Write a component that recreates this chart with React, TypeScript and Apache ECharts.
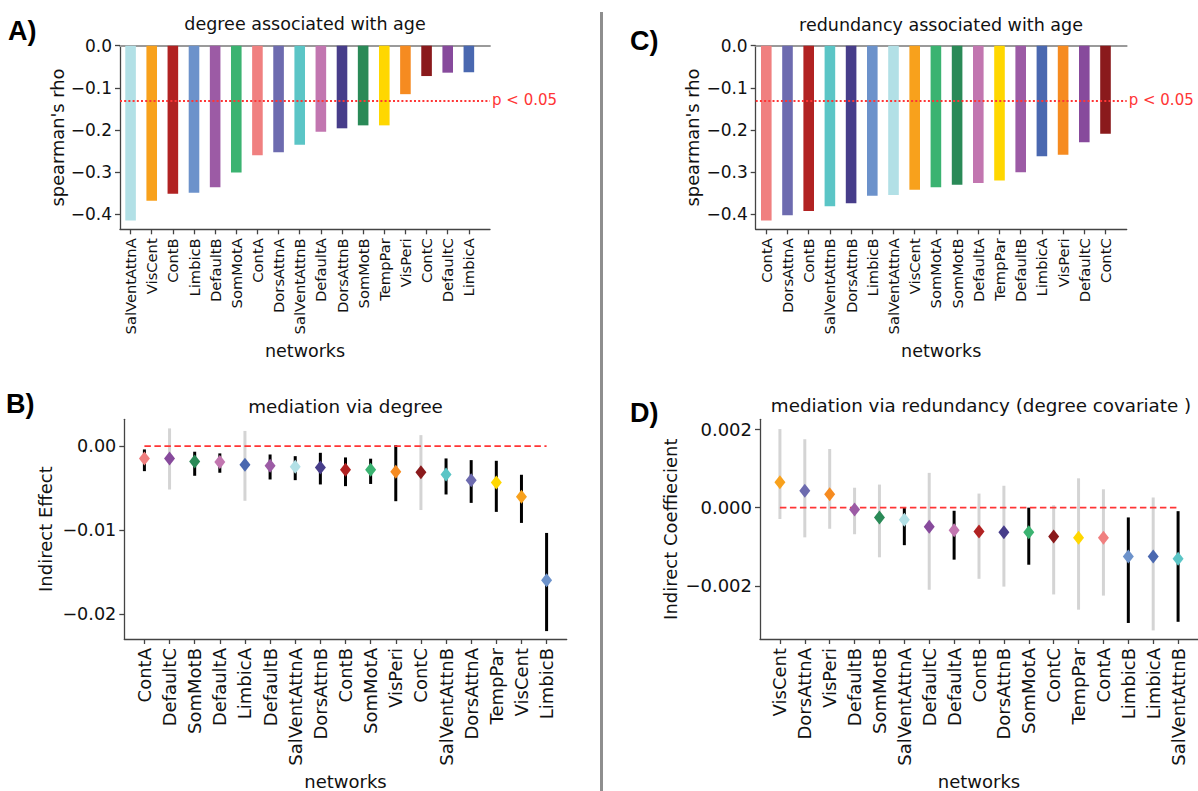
import React, { useEffect, useRef } from 'react';
import * as echarts from 'echarts';

// ---------- data ----------
const aNetworks = ['SalVentAttnA', 'VisCent', 'ContB', 'LimbicB', 'DefaultB', 'SomMotA', 'ContA', 'DorsAttnA', 'SalVentAttnB', 'DefaultA', 'DorsAttnB', 'SomMotB', 'TempPar', 'VisPeri', 'ContC', 'DefaultC', 'LimbicA'];
const aRho = [-0.415, -0.368, -0.351, -0.349, -0.336, -0.301, -0.26, -0.253, -0.235, -0.204, -0.196, -0.189, -0.189, -0.115, -0.072, -0.064, -0.063];

const cNetworks = ['ContA', 'DorsAttnA', 'ContB', 'SalVentAttnB', 'DorsAttnB', 'LimbicB', 'SalVentAttnA', 'VisCent', 'SomMotA', 'SomMotB', 'DefaultA', 'TempPar', 'DefaultB', 'LimbicA', 'VisPeri', 'DefaultC', 'ContC'];
const cRho = [-0.415, -0.402, -0.392, -0.381, -0.374, -0.356, -0.354, -0.342, -0.336, -0.33, -0.326, -0.32, -0.3, -0.262, -0.259, -0.229, -0.209];

const pThreshold = -0.134;
const rhoTicks = [0, -0.1, -0.2, -0.3, -0.4];

const bNetworks = ['ContA', 'DefaultC', 'SomMotB', 'DefaultA', 'LimbicA', 'DefaultB', 'SalVentAttnA', 'DorsAttnB', 'ContB', 'SomMotA', 'VisPeri', 'ContC', 'SalVentAttnB', 'DorsAttnA', 'TempPar', 'VisCent', 'LimbicB'];
const bEffect = [-0.00147, -0.00147, -0.00183, -0.0019, -0.00222, -0.00234, -0.00246, -0.00254, -0.00282, -0.00282, -0.00306, -0.0031, -0.00337, -0.00405, -0.00433, -0.00603, -0.01595];
const bLower = [-0.00298, -0.00516, -0.00353, -0.00317, -0.0065, -0.00397, -0.00405, -0.00456, -0.00476, -0.0045, -0.00655, -0.0076, -0.00575, -0.00675, -0.00782, -0.00913, -0.02198];
const bUpper = [-0.0004, 0.0021, -0.00067, -0.00087, 0.0018, -0.001, -0.0012, -0.0008, -0.00135, -0.0015, 0.0001, 0.0013, -0.00147, -0.00167, -0.00175, -0.00341, -0.01032];
const bSignificant = [true, false, true, true, false, true, true, true, true, true, true, false, true, true, true, true, true];
const bTicks = [0, -0.01, -0.02];

const dNetworks = ['VisCent', 'DorsAttnA', 'VisPeri', 'DefaultB', 'SomMotB', 'SalVentAttnA', 'DefaultC', 'DefaultA', 'ContB', 'DorsAttnB', 'SomMotA', 'ContC', 'TempPar', 'ContA', 'LimbicB', 'LimbicA', 'SalVentAttnB'];
const dCoef = [0.00065, 0.00043, 0.00034, -0.00005, -0.00025, -0.00031, -0.00049, -0.00058, -0.00061, -0.00063, -0.00063, -0.00074, -0.00077, -0.00077, -0.00125, -0.00125, -0.00131];
const dLower = [-0.00029, -0.00076, -0.00054, -0.00068, -0.00127, -0.00096, -0.0021, -0.00133, -0.00182, -0.00202, -0.00146, -0.00222, -0.00261, -0.00225, -0.00295, -0.00314, -0.00292];
const dUpper = [0.00201, 0.00175, 0.0015, 0.00051, 0.00059, 0.0, 0.00089, -0.00008, 0.00036, 0.00056, 0.0, 0.00006, 0.00075, 0.00047, -0.00025, 0.00026, -0.00009];
const dSignificant = [false, false, false, false, false, true, false, true, false, false, true, false, false, false, true, false, true];
const dTicks = [0.002, 0, -0.002];

const networkColors: Record<string, string> = {
  VisCent: '#f8a11c',
  VisPeri: '#f68b20',
  SomMotA: '#3bb371',
  SomMotB: '#2a8a57',
  DorsAttnA: '#6d6baf',
  DorsAttnB: '#473d8a',
  SalVentAttnA: '#b2e0e6',
  SalVentAttnB: '#5bc5c6',
  LimbicA: '#4a68b0',
  LimbicB: '#6c92cb',
  ContA: '#f08080',
  ContB: '#b12222',
  ContC: '#8a1a1c',
  DefaultA: '#c276b0',
  DefaultB: '#9c5ba5',
  DefaultC: '#874a9c',
  TempPar: '#ffd700',
};

// ---------- style ----------
const FONT = 'DejaVu Sans';
const TXT = '#111';
const SPINE = '#444';
const RED = '#ff3535';

const fmt = (d: number) => (v: number) => {
  const s = Math.abs(v) < 1e-12 ? (0).toFixed(d) : Number(v).toFixed(d);
  return s.replace('-', '\u2212');
};

const spine = { show: true, onZero: false, lineStyle: { color: SPINE, width: 1.3 } };
const ticks = (vals: number[]) => ({ show: true, inside: false, length: 5, customValues: vals, lineStyle: { color: SPINE, width: 1.3 } });

const idx = (n: number) => Array.from({ length: n }, (_, i) => i);

function netAxis(names: string[], gridIndex: number, min: number, max: number, nameGap: number, labelSize: number, nameSize: number) {
  const vals = idx(names.length);
  return {
    type: 'value',
    gridIndex,
    min,
    max,
    axisLine: spine,
    axisTick: ticks(vals),
    axisLabel: {
      customValues: vals,
      rotate: 90,
      margin: 9,
      fontSize: labelSize,
      color: TXT,
      fontFamily: FONT,
      formatter: (v: number) => names[Math.round(v)] ?? '',
    },
    splitLine: { show: false },
    name: 'networks',
    nameLocation: 'middle',
    nameGap,
    nameTextStyle: { fontSize: nameSize, color: TXT, fontFamily: FONT },
  };
}

function topLine(gridIndex: number, min: number, max: number) {
  return {
    type: 'value',
    gridIndex,
    position: 'top',
    min,
    max,
    axisLine: { show: true, onZero: false, lineStyle: { color: '#9a9a9a', width: 1.8 } },
    axisTick: { show: false },
    axisLabel: { show: false },
    splitLine: { show: false },
  };
}

function valAxis(gridIndex: number, min: number, max: number, vals: number[], digits: number, name: string, nameGap: number, labelSize: number, nameSize: number) {
  return {
    type: 'value',
    gridIndex,
    min,
    max,
    axisLine: spine,
    axisTick: ticks(vals),
    axisLabel: { customValues: vals, margin: 8, fontSize: labelSize, color: TXT, fontFamily: FONT, formatter: fmt(digits) },
    splitLine: { show: false },
    name,
    nameLocation: 'middle',
    nameGap,
    nameTextStyle: { fontSize: nameSize, color: TXT, fontFamily: FONT },
  };
}

function barSeries(names: string[], values: number[], xAxisIndex: number, yAxisIndex: number) {
  return {
    type: 'bar',
    xAxisIndex,
    yAxisIndex,
    barWidth: 10.6,
    data: values.map((v, i) => ({ value: [i, v], itemStyle: { color: networkColors[names[i]] } })),
    markLine: {
      silent: true,
      symbol: 'none',
      data: [{ yAxis: pThreshold }],
      lineStyle: { color: RED, width: 2, type: [2, 2.2] },
      label: { show: true, position: 'end', formatter: 'p < 0.05', color: RED, fontSize: 15, fontFamily: FONT, distance: [2, 4] },
    },
  };
}

function errorSeries(names: string[], mid: number[], lo: number[], hi: number[], sig: boolean[], xAxisIndex: number, yAxisIndex: number) {
  const n = names.length;
  return [
    {
      type: 'custom',
      xAxisIndex,
      yAxisIndex,
      z: 2,
      encode: { x: 0, y: [1, 2] },
      data: lo.map((l, i) => [i, l, hi[i], sig[i] ? 1 : 0]),
      renderItem: (params: any, api: any) => {
        const x = api.value(0);
        const p1 = api.coord([x, api.value(2)]);
        const p2 = api.coord([x, api.value(1)]);
        return {
          type: 'line',
          shape: { x1: p1[0], y1: p1[1], x2: p2[0], y2: p2[1] },
          style: { stroke: api.value(3) ? '#000' : '#d4d4d4', lineWidth: 3 },
        };
      },
    },
    {
      type: 'line',
      xAxisIndex,
      yAxisIndex,
      z: 3,
      symbol: 'none',
      silent: true,
      data: [[0, 0], [n - 1, 0]],
      lineStyle: { color: RED, width: 1.8, type: [6.5, 3.5] },
    },
    {
      type: 'scatter',
      xAxisIndex,
      yAxisIndex,
      z: 4,
      symbol: 'diamond',
      symbolSize: [11, 14],
      data: mid.map((v, i) => ({ value: [i, v], itemStyle: { color: networkColors[names[i]], opacity: 1 } })),
    },
  ];
}

const letter = (text: string, x: number, y: number) => ({
  type: 'text',
  x,
  y,
  style: { text, fill: '#000', font: 'bold 27px "Liberation Sans"', textVerticalAlign: 'middle' },
});

const titleOf = (text: string, left: number, top: number, size: number) => ({
  text,
  left,
  top,
  textAlign: 'center',
  padding: 0,
  textStyle: { fontSize: size, fontWeight: 'normal', color: TXT, fontFamily: FONT },
});

export default function App() {
  const ref = useRef<HTMLDivElement>(null);

  useEffect(() => {
    if (!ref.current) return;
    const chart = echarts.init(ref.current, null, { renderer: 'svg' });
    const option: any = {
      animation: false,
      backgroundColor: '#fff',
      textStyle: { fontFamily: FONT },
      title: [
        titleOf('degree associated with age', 305, 15, 17.5),
        titleOf('redundancy associated with age', 941, 16, 17.5),
        titleOf('mediation via degree', 345.5, 397, 18.3),
        titleOf('mediation via redundancy (degree covariate )', 981, 396, 18.3),
      ],
      grid: [
        { left: 120, top: 45.7, width: 370, height: 183.6 },
        { left: 755.7, top: 45.7, width: 371, height: 183.6 },
        { left: 124.3, top: 419.3, width: 442.4, height: 219.7 },
        { left: 760, top: 419.3, width: 442.3, height: 220 },
      ],
      xAxis: [
        netAxis(aNetworks, 0, -0.5, 17, 113, 14.7, 17.5),
        topLine(0, -0.5, 17),
        netAxis(cNetworks, 1, -0.5, 17, 113, 14.7, 17.5),
        topLine(1, -0.5, 17),
        netAxis(bNetworks, 2, -0.8, 16.8, 133, 18, 18),
        netAxis(dNetworks, 3, -0.8, 16.8, 133, 18, 18),
      ],
      yAxis: [
        valAxis(0, -0.4356, 0, rhoTicks, 1, "spearman's rho", 54, 17, 17.8),
        valAxis(1, -0.4356, 0, rhoTicks, 1, "spearman's rho", 54, 17, 17.8),
        valAxis(2, -0.02292, 0.00318, bTicks, 2, 'Indirect Effect', 70, 17.6, 18),
        valAxis(3, -0.00336, 0.00226, dTicks, 3, 'Indirect Coeffiecient', 81, 18, 18),
      ],
      series: [
        barSeries(aNetworks, aRho, 0, 0),
        barSeries(cNetworks, cRho, 2, 1),
        ...errorSeries(bNetworks, bEffect, bLower, bUpper, bSignificant, 4, 2),
        ...errorSeries(dNetworks, dCoef, dLower, dUpper, dSignificant, 5, 3),
      ],
      graphic: [
        { type: 'line', shape: { x1: 601.5, y1: 12, x2: 601.5, y2: 791 }, style: { stroke: '#8e8e8e', lineWidth: 3 } },
        letter('A)', 8, 31),
        letter('B)', 6, 404),
        letter('C)', 630, 41),
        letter('D)', 630, 413),
      ],
    };
    chart.setOption(option);
    return () => chart.dispose();
  }, []);

  return <div ref={ref} style={{ position: 'fixed', left: 0, top: 0, width: 1198, height: 791, background: '#fff' }} />;
}
